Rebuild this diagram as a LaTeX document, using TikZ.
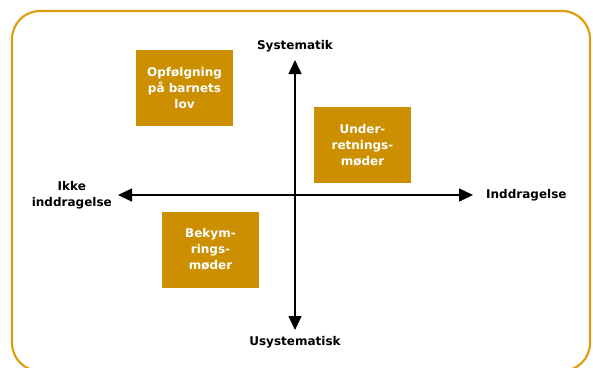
\documentclass[tikz,border=0pt]{standalone}
\usepackage{fontspec}
\setmainfont{DejaVu Sans}
\usetikzlibrary{positioning, arrows.meta}
\definecolor{framegold}{RGB}{222,158,16}
\definecolor{boxgold}{RGB}{204,143,0}
\tikzset{x=1pt, y=-1pt, % one unit is one pixel of the picture
axis/.style={{Triangle[length=14pt,width=13pt]}-{Triangle[length=14pt,width=13pt]}, line width=1.5pt}, % the two axes
axislabel/.style={font=\bfseries\fontsize{12}{16}\selectfont, align=center, inner sep=0pt}, % texts at the axis ends
quadrant/.style={fill=boxgold, text=white, font=\bfseries\fontsize{12}{16}\selectfont, align=center, minimum width=97pt, minimum height=76pt, inner sep=0pt}, % the orange boxes
}
\begin{document}
\begin{tikzpicture}
  \useasboundingbox (0,0) rectangle (593,367);
  \draw[framegold, line width=2.2pt, rounded corners=28pt] (12,11) rectangle (590,371);

  \coordinate (west) at (118,195);
  \coordinate (east) at (473,195);
  \coordinate (north) at (295,60);
  \coordinate (south) at (295,330);

  \draw[axis] (west) -- (east);
  \draw[axis] (north) -- (south);

  \node[axislabel, above=8pt of north] (sys) {Systematik};
  \node[axislabel, below=6pt of south] (usys) {Usystematisk};
  \node[axislabel, right=13pt of east] (indd) {Inddragelse};
  \node[axislabel, left=6pt of west] (ikke) {Ikke\\inddragelse};

  \node[quadrant] (opf) at (184.5,88) {Opfølgning\\på barnets\\lov};
  \node[quadrant] (under) at (362.5,145) {Under-\\retnings-\\møder};
  \node[quadrant] (bekym) at (210.5,249.5) {Bekym-\\rings-\\møder};
\end{tikzpicture}
\end{document}
